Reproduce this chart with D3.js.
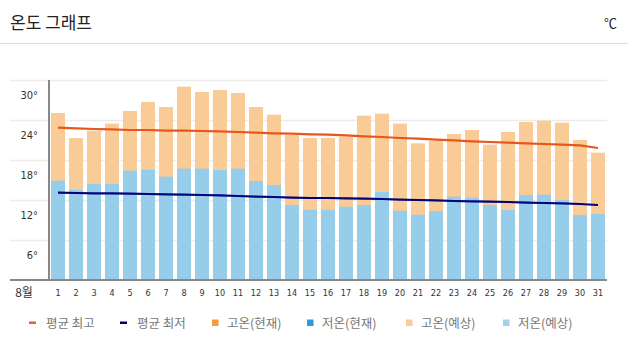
<!DOCTYPE html>
<html><head><meta charset="utf-8">
<script src="https://cdn.jsdelivr.net/npm/d3@7"></script>
<style>
html,body{margin:0;padding:0;background:#fff;}
svg{display:block;font-family:"Noto Sans CJK KR","Noto Sans",sans-serif;}
</style></head>
<body>
<script>
const days = d3.range(1, 32).map(String);
const highs = [25.05,21.3,22.4,23.45,25.35,26.7,25.95,29.0,28.2,28.5,28.05,25.95,24.8,21.75,21.3,21.3,21.5,24.65,24.95,23.45,20.5,20.9,21.9,22.5,20.3,22.2,23.7,23.9,23.6,21.0,19.1];
const lows = [14.9,13.5,14.4,14.4,16.4,16.55,15.5,16.7,16.7,16.5,16.7,14.85,14.25,11.25,10.55,10.55,11.0,11.25,13.2,10.4,9.8,10.35,12.5,12.35,11.25,10.5,12.75,12.8,12.0,9.75,9.9];
const avgMax = [22.85,22.75,22.65,22.6,22.5,22.5,22.4,22.4,22.35,22.3,22.2,22.1,22.0,21.95,21.85,21.8,21.7,21.55,21.45,21.3,21.2,21.05,20.95,20.8,20.7,20.6,20.5,20.4,20.3,20.2,19.8];
const avgMin = [13.1,13.05,13.0,13.0,12.95,12.9,12.85,12.8,12.75,12.7,12.6,12.5,12.45,12.35,12.3,12.3,12.25,12.2,12.15,12.05,12.0,11.95,11.85,11.8,11.75,11.7,11.6,11.55,11.5,11.4,11.25];
const yTicks = [6, 12, 18, 24, 30];
const monthLabel = "8월";
const title = "온도 그래프";
const unit = "℃";
const legendItems = [
  {label:"평균 최고", type:"line", color:"#d9663a"},
  {label:"평균 최저", type:"line", color:"#000066"},
  {label:"고온(현재)", type:"rect", color:"#f79a3e"},
  {label:"저온(현재)", type:"rect", color:"#2e9bd6"},
  {label:"고온(예상)", type:"rect", color:"#f9cb96"},
  {label:"저온(예상)", type:"rect", color:"#a3d1ea"}
];

const W = 628, H = 355;
const svg = d3.select("body").append("svg").attr("width", W).attr("height", H);

// header
svg.append("text").attr("x", 10).attr("y", 29).attr("font-size", 17).attr("fill", "#222").text(title);
svg.append("text").attr("x", 617).attr("y", 28).attr("text-anchor", "end").attr("font-size", 13).attr("fill", "#222").text(unit);
svg.append("line").attr("x1", 0).attr("x2", W).attr("y1", 43.5).attr("y2", 43.5).attr("stroke", "#dcdcdc").attr("stroke-width", 1);

const x = d3.scaleBand().domain(days).range([49, 607]).paddingInner(0.22).paddingOuter(0.11);
const y = d3.scaleLinear().domain([0, 30]).range([280, 80]);

// gridlines
svg.append("g").selectAll("line").data(yTicks).join("line")
  .attr("x1", 10).attr("x2", 607)
  .attr("y1", d => y(d) + 0.5).attr("y2", d => y(d) + 0.5)
  .attr("stroke", "#ececec").attr("stroke-width", 1.5);

// y labels
svg.append("g").selectAll("text").data(yTicks).join("text")
  .attr("x", 38).attr("y", d => y(d) + 19)
  .attr("text-anchor", "end").attr("font-size", 11).attr("fill", "#333")
  .attr("font-family", "'Liberation Sans Narrow','DejaVu Sans Condensed',sans-serif")
  .text(d => d + "°");

// bars: high (stack full height) then low
svg.append("g").selectAll("rect").data(days).join("rect")
  .attr("x", d => x(d)).attr("width", x.bandwidth())
  .attr("y", (d, i) => y(highs[i])).attr("height", (d, i) => y(0) - y(highs[i]))
  .attr("fill", "#f9cb96");
svg.append("g").selectAll("rect").data(days).join("rect")
  .attr("x", d => x(d)).attr("width", x.bandwidth())
  .attr("y", (d, i) => y(lows[i])).attr("height", (d, i) => y(0) - y(lows[i]))
  .attr("fill", "#96cdeb");

// avg lines
const line = d3.line().x((v, i) => x(days[i]) + x.bandwidth() / 2).y(v => y(v));
svg.append("path").datum(avgMax).attr("d", line).attr("fill", "none").attr("stroke", "#e8561c").attr("stroke-width", 2.2);
svg.append("path").datum(avgMin).attr("d", line).attr("fill", "none").attr("stroke", "#02027a").attr("stroke-width", 2.2);

// axes lines
svg.append("line").attr("x1", 49).attr("x2", 49).attr("y1", 80).attr("y2", 280).attr("stroke", "#888").attr("stroke-width", 2);
svg.append("line").attr("x1", 10).attr("x2", 607).attr("y1", 280).attr("y2", 280).attr("stroke", "#888").attr("stroke-width", 2);

// x labels
svg.append("g").selectAll("text").data(days).join("text")
  .attr("x", d => x(d) + x.bandwidth() / 2).attr("y", 296)
  .attr("text-anchor", "middle").attr("font-size", 9).attr("fill", "#333")
  .attr("font-family", "'Liberation Sans Narrow','DejaVu Sans Condensed',sans-serif")
  .text(d => d);
svg.append("text").attr("x", 24).attr("y", 297).attr("text-anchor", "middle").attr("font-size", 12).attr("fill", "#333").text(monthLabel);

// legend
const legendX = [29, 120, 212, 307, 406, 503];
const lg = svg.append("g").selectAll("g").data(legendItems).join("g")
  .attr("transform", (d, i) => `translate(${legendX[i]},323)`);
lg.filter(d => d.type === "line").append("rect").attr("x", 0).attr("y", -1.5).attr("width", 7).attr("height", 2.5).attr("fill", d => d.color);
lg.filter(d => d.type === "rect").append("rect").attr("x", 0).attr("y", -3.5).attr("width", 6.5).attr("height", 6.5).attr("fill", d => d.color);
lg.append("text").attr("x", d => d.type === "line" ? 17 : 15).attr("y", 4.5)
  .attr("font-size", 12.5).attr("fill", "#777").text(d => d.label);
</script>
</body></html>
